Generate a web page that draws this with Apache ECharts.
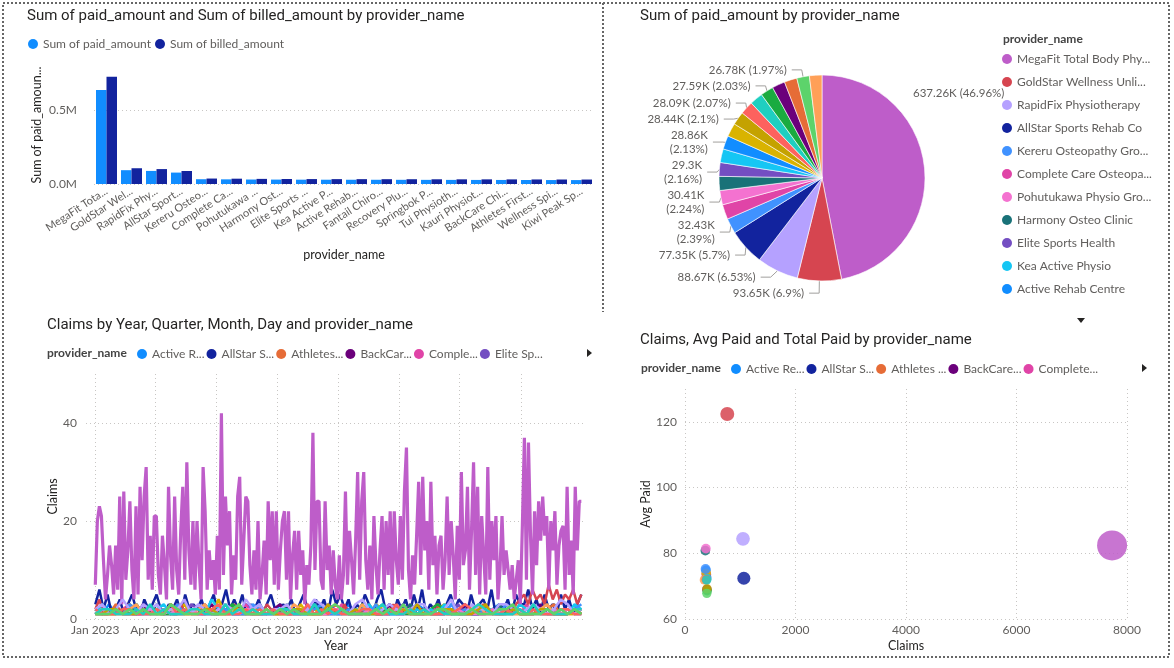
<!DOCTYPE html>
<html>
<head>
<meta charset="utf-8">
<script src="https://cdn.jsdelivr.net/npm/echarts@6/dist/echarts.min.js"></script>
<style>
  html, body { margin: 0; padding: 0; background: #fff; }
  #chart { width: 1174px; height: 668px; }
</style>
</head>
<body>
<div id="chart"></div>
<script>
// providers, ordered by sum of paid_amount (desc)
const providers = [
  'MegaFit Total Body Phy...', 'GoldStar Wellness Unli...', 'RapidFix Physiotherapy', 'AllStar Sports Rehab Co',
  'Kereru Osteopathy Gro...', 'Complete Care Osteopa...', 'Pohutukawa Physio Gro...', 'Harmony Osteo Clinic',
  'Elite Sports Health', 'Kea Active Physio', 'Active Rehab Centre', 'Fantail Chiro...',
  'Recovery Plu...', 'Springbok P...', 'Tui Physioth...', 'Kauri Physiot...',
  'BackCare Chi...', 'Athletes First...', 'Wellness Spi...', 'Kiwi Peak Sp...'
];
const barTickLabels = [
  'MegaFit Tota...', 'GoldStar Wel...', 'RapidFix Phy...', 'AllStar Sport...', 'Kereru Osteo...',
  'Complete Ca...', 'Pohutukawa ...', 'Harmony Ost...', 'Elite Sports ...', 'Kea Active P...',
  'Active Rehab...', 'Fantail Chiro...', 'Recovery Plu...', 'Springbok P...', 'Tui Physioth...',
  'Kauri Physiot...', 'BackCare Chi...', 'Athletes First...', 'Wellness Spi...', 'Kiwi Peak Sp...'
];
// thousands
const paidK = [637.26, 93.65, 88.67, 77.35, 32.43, 31.6, 30.41, 29.9, 29.3, 29.05,
               28.86, 28.65, 28.44, 28.09, 27.85, 27.59, 27.45, 27.1, 26.78, 26.6];
const billedK = [726.5, 106.8, 101.1, 88.2, 37.0, 36.0, 34.7, 34.1, 33.4, 33.1,
                 32.9, 32.7, 32.4, 32.0, 31.7, 31.5, 31.3, 30.9, 30.5, 30.3];
const claims = [7730, 765, 1050, 1065, 372, 385, 378, 368, 390, 395,
                380, 384, 398, 388, 392, 401, 396, 376, 395, 350];
const avgPaid = [82.4, 122.4, 84.4, 72.4, 75.2, 73.6, 81.4, 80.8, 72.8, 72.3,
                 74.8, 73.9, 69.2, 72.0, 71.9, 68.6, 69.0, 72.1, 67.8, 71.9];

const quarterTicks = ['2023-01-01', '2023-04-01', '2023-07-01', '2023-10-01',
                      '2024-01-01', '2024-04-01', '2024-07-01', '2024-10-01'];

// daily claims, Jan 2023 .. Dec 2024 (sampled)
const megaFitDaily = [
  7, 20, 23, 21, 12, 4, 9, 15, 11, 5,
  15, 6, 25, 3, 26, 8, 14, 24, 10, 4,
  23, 5, 27, 12, 25, 31, 8, 17, 6, 21,
  21, 9, 5, 17, 11, 4, 27, 13, 6, 25,
  10, 5, 18, 27, 8, 32, 14, 7, 20, 6,
  20, 11, 4, 31, 22, 6, 14, 8, 12, 5,
  17, 6, 42, 9, 25, 15, 22, 5, 13, 8,
  25, 29, 7, 16, 25, 24, 11, 5, 14, 6,
  20, 4, 9, 16, 5, 24, 12, 22, 7, 22,
  6, 14, 20, 22, 8, 22, 4, 13, 18, 6,
  18, 9, 14, 3, 11, 7, 15, 38, 10, 24,
  24, 8, 6, 24, 10, 15, 5, 14, 7, 4,
  13, 4, 9, 26, 7, 18, 12, 5, 16, 30,
  8, 24, 30, 12, 6, 15, 4, 21, 11, 5,
  14, 21, 6, 20, 9, 22, 5, 22, 12, 7,
  21, 8, 26, 35, 10, 4, 13, 7, 17, 28,
  9, 29, 14, 20, 6, 28, 11, 17, 5, 15,
  17, 6, 12, 25, 9, 20, 13, 4, 19, 8,
  30, 11, 14, 27, 6, 18, 32, 9, 27, 5,
  21, 13, 5, 31, 8, 20, 12, 21, 4, 10,
  21, 9, 14, 10, 6, 11, 4, 8, 12, 3,
  19, 37, 8, 36, 17, 5, 22, 11, 24, 16,
  25, 17, 21, 6, 20, 14, 22, 7, 15, 18,
  19, 6, 27, 9, 16, 5, 27, 14, 24, 24
];
const allStarDaily = [
  3,6,2,5,1, 2,4,1,3,5, 2,1,4,2,3, 5,2,1,3,2, 4,1,5,2,3, 2,4,1,3,5,
  1,3,6,2,4, 2,5,1,3,2, 4,1,3,5,2, 1,3,2,4,1, 3,5,2,1,4, 2,4,1,6,3,
  5,2,4,1,3, 2,5,3,1,4, 6,2,3,1,4, 2,4,1,5,2, 6,1,3,2,4, 1,3,5,2,4,
  3,1,5,2,3, 4,2,6,1,3, 2,4,1,5,3, 3,6,2,4,1, 5,2,3,1,5, 2,4,1,3,5
];
const goldStarDaily = [
  2,4,1,1,2, 1,2,1,3,1, 1,1,2,1,2, 2,1,1,2,1, 1,3,1,1,2, 2,1,1,2,1,
  1,2,1,1,3, 2,1,2,1,1, 1,1,3,2,1, 1,2,1,1,2, 2,1,3,1,1, 1,2,1,2,1,
  1,3,1,2,1, 2,1,1,2,1, 1,2,1,3,1, 2,1,2,1,1, 1,1,2,1,3, 2,1,1,2,1,
  1,2,1,1,2, 3,1,2,1,1, 1,2,1,3,4, 5,3,6,4,5, 3,7,4,6,3, 5,4,6,3,5
];
const activeRehabDaily = [2,1,3,1,2,1,3,1,2,1,1,3,2,1,2,1,3,1,2,2,1,1,3,2,1,2,1,3,1,1,2,1,3,1,2,1,2,3,1,1,2,2,3,1,1,1,2,3,2,1,1,1,3,2,2,1,1,1,2,3,3,1,2,1,1,2,2,3,1,1,2,1];
const rapidFixDaily = [2,3,1,2,4,2,1,3,2,3,1,2,2,4,1,3,2,1,2,3,2,1,4,2,3,1,2,2,3,1,1,2,4,3,2,1,2,1,3,4,2,1,2,3,2,1,2,3,3,1,2,2,4,1,1,3,2,2,1,3,3,2,1,2,3,2,1,2,4,3,1,2];
const athletesDaily = [1,2,1,3,1,2,1,1,2,2,1,3,1,2,1,1,3,1,2,1,2,1,2,1,3,1,1,1,2,2,2,1,1,1,1,3,2,2,1,1,3,1,1,1,2,2,1,1,1,2,3,1,1,2,2,1,1,3,1,2,1,2,1,1,1,2,2,3,1,1,1,2];
const backCareDaily = [1,1,2,2,1,1,1,3,1,1,2,1,2,1,2,1,1,3,1,2,1,2,1,1,1,1,2,3,1,1,1,2,1,2,1,2,1,1,1,2,2,1,1,3,1,1,1,2,2,1,1,1,2,1,3,1,1,1,1,2,1,2,1,2,1,3,1,1,1,2,1,2];
const completeDaily = [2,1,1,1,2,3,1,1,2,2,1,1,3,1,2,1,2,1,1,1,2,2,3,1,1,1,2,1,2,1,2,1,3,1,1,1,3,2,1,1,1,2,2,1,1,1,3,1,1,2,2,2,1,1,1,1,3,2,1,1,1,2,1,3,1,2,1,1,2,2,1,1];
const eliteDaily = [1,2,1,2,1,3,1,1,1,2,2,1,1,1,3,2,1,1,1,2,1,1,1,2,3,1,1,2,1,2,1,1,1,1,3,2,2,1,1,1,2,1,1,1,2,3,1,1,1,2,1,2,1,3,1,1,1,2,2,1,1,1,2,1,3,1,2,1,1,1,2,2];
const fantailDaily = [2,1,1,1,1,3,2,1,2,1,2,1,1,3,1,2,1,1,4,1,2,1,1,2,2,2,1,1,1,1,3,1,2,1,2,1,2,1,1,1,1,3,2,1,2,1,2,1,1,1,2,3,1,1,1,2,1,2,1,2,1,1,3,2,1,1,1,2,1,1,1,2];
const harmonyDaily = [1,1,2,2,1,1,1,2,1,3,1,1,1,1,2,2,1,2,1,3,1,1,1,1,2,1,2,1,2,1,1,1,3,2,1,1,1,2,1,2,1,1,1,1,2,1,3,1,2,1,1,1,2,2,1,1,1,2,1,3,1,2,1,1,1,2,3,1,1,1,2,1];
const kauriDaily = [2,1,1,1,2,1,3,1,2,1,1,1,2,1,2,1,2,1,1,1,3,2,2,1,1,1,2,1,3,1,2,1,1,1,1,2,1,2,1,3,1,1,2,1,2,1,1,1,1,2,3,2,1,1,1,1,2,1,2,1,2,1,1,1,3,1,1,1,2,2,1,1];
const keaDaily = [1,3,1,2,1,2,1,1,1,2,3,1,1,2,1,1,1,4,2,1,1,1,2,2,3,1,1,1,1,2,2,1,3,1,2,1,1,1,2,2,3,1,1,1,1,2,1,2,1,2,1,3,1,1,1,1,2,2,2,1,1,1,3,2,1,1,1,2,1,1,3,2];
const kereruDaily = [2,1,2,1,1,3,2,1,1,1,2,1,3,1,2,1,1,1,2,2,1,1,1,3,2,1,2,1,2,1,1,1,2,3,1,1,1,2,1,2,1,3,1,1,1,2,2,1,1,1,2,1,3,1,2,1,1,2,1,1,3,2,1,1,1,2,2,1,1,1,2,3];
const kiwiPeakDaily = [1,2,1,1,1,2,3,1,1,2,1,2,1,1,1,2,3,1,1,1,2,2,1,1,1,2,1,1,1,3,2,1,1,1,2,2,1,1,1,3,1,2,1,2,1,2,1,1,1,1,2,2,2,1,1,1,3,1,2,1,2,1,1,1,1,2,3,1,1,1,2,1];
const pohutukawaDaily = [1,2,1,2,1,1,1,1,2,1,2,1,2,1,2,1,1,1,2,1,1,1,2,2,1,1,1,2,1,2,1,2,1,1,1,2,2,1,1,1,2,1,1,1,2,2,2,1,1,1,1,2,1,2,1,1,1,1,2,1,2,1,2,1,1,1,1,2,1,2,1,1];
const recoveryDaily = [1,1,2,2,1,1,1,2,1,1,1,3,2,1,1,1,2,2,1,1,1,3,1,2,1,2,1,1,1,2,2,1,1,1,3,1,2,1,2,1,1,1,1,2,1,2,1,3,1,1,1,2,2,1,1,1,2,3,1,1,1,2,1,1,1,2,2,1,1,1,2,1];
const springbokDaily = [2,1,1,1,2,2,1,1,1,2,1,3,1,2,1,1,1,2,3,1,1,1,2,1,2,1,2,1,1,1,1,3,1,2,1,2,1,1,1,2,2,1,1,1,3,1,2,1,2,1,1,1,1,2,3,2,1,1,1,1,2,1,2,1,2,1,1,1,2,2,1,1];
const tuiDaily = [1,2,2,1,1,1,2,1,3,1,2,1,1,1,2,2,1,1,1,3,1,2,1,2,1,1,1,2,2,1,1,1,3,1,2,1,2,1,1,1,1,2,3,1,1,1,2,1,2,1,2,1,1,1,1,2,3,2,1,1,1,1,2,1,3,1,2,1,1,1,2,2];
const wellnessDaily = [1,1,1,2,1,2,1,2,1,1,1,3,2,1,1,1,2,1,1,1,2,3,1,1,1,2,1,2,1,2,1,1,1,1,2,3,2,1,1,1,1,2,1,2,1,3,1,1,1,1,2,2,1,1,1,2,1,1,1,2,2,3,1,1,1,1,2,1,2,1,2,1];

// same order as providers
const dailyByProvider = [
  megaFitDaily, goldStarDaily, rapidFixDaily, allStarDaily, kereruDaily, completeDaily, pohutukawaDaily,
  harmonyDaily, eliteDaily, keaDaily, activeRehabDaily, fantailDaily, recoveryDaily, springbokDaily,
  tuiDaily, kauriDaily, backCareDaily, athletesDaily, wellnessDaily, kiwiPeakDaily
];

const pieLabelled = [0, 1, 2, 3, 4, 6, 8, 10, 12, 13, 15, 18];
const pieWrapped = [4, 6, 8, 10];
const paidTotal = paidK.reduce((a, b) => a + b, 0);

// power bi default palette, assigned alphabetically
const palette = ['#118DFF', '#12239E', '#E66C37', '#6B007B', '#E044A7', '#744EC2', '#D9B300', '#D64550',
                 '#197278', '#1AAB40', '#15C6F4', '#4092FF', '#FFA058', '#BE5DC9', '#F472D0', '#B5A1FF',
                 '#C4A200', '#FD625E', '#1FCFC0', '#5DD36B'];
const alphaOrder = providers.slice().sort((a, b) => a.localeCompare(b));
const colorOf = {};
alphaOrder.forEach((n, i) => { colorOf[n] = palette[i]; });

const FONT = '"Segoe UI", Lato, "Open Sans", sans-serif';
const TFONT = 'DIN, Roboto, sans-serif';
const LABEL = '#605E5C';
const DARK = '#252423';
const MONTHS = ['Jan', 'Feb', 'Mar', 'Apr', 'May', 'Jun', 'Jul', 'Aug', 'Sep', 'Oct', 'Nov', 'Dec'];
const dotted = { color: '#C8C6C4', type: [1, 3], width: 1 };

// x of the line chart = days since 1 Jan 2023
const DAY = 86400000;
const T0 = Date.UTC(2023, 0, 1);
const SPAN = (Date.UTC(2024, 11, 31) - T0) / DAY;
function toDaily(arr) {
  return arr.map((v, i) => [SPAN * i / (arr.length - 1), v]);
}
function toDayNo(s) {
  const p = s.split('-');
  return (Date.UTC(+p[0], +p[1] - 1, +p[2]) - T0) / DAY;
}
const quarterDays = quarterTicks.map(toDayNo);

const lineSeries = alphaOrder.map(name => {
  const i = providers.indexOf(name);
  return {
    name: name, type: 'line', xAxisIndex: 1, yAxisIndex: 1,
    data: toDaily(dailyByProvider[i]),
    showSymbol: false, symbol: 'none',
    lineStyle: { width: i === 0 ? 3.2 : 2.5 },
    color: colorOf[name]
  };
});

const scatterSeries = alphaOrder.map(name => {
  const i = providers.indexOf(name);
  return {
    name: name, type: 'scatter', xAxisIndex: 2, yAxisIndex: 2,
    data: [[claims[i], avgPaid[i], paidK[i]]],
    symbolSize: d => 4 + 26 * Math.sqrt(d[2] / paidK[0]),
    itemStyle: { color: colorOf[name], opacity: 0.85 }
  };
});

const titleStyle = { fontFamily: TFONT, fontSize: 15, fontWeight: 'normal', color: DARK };
const fieldStyle = { fontFamily: FONT, fontSize: 12, fontWeight: 'bold', color: '#444' };

const myChart = echarts.init(document.getElementById('chart'));
const option = {
  animation: false,
  textStyle: { fontFamily: FONT },
  title: [
    { text: 'Sum of paid_amount and Sum of billed_amount by provider_name', left: 27, top: 9, padding: 0, textStyle: titleStyle },
    { text: 'Sum of paid_amount by provider_name', left: 640, top: 9, padding: 0, textStyle: titleStyle },
    { text: 'Claims by Year, Quarter, Month, Day and provider_name', left: 47, top: 318, padding: 0, textStyle: titleStyle },
    { text: 'Claims, Avg Paid and Total Paid by provider_name', left: 640, top: 333, padding: 0, textStyle: titleStyle },
    { text: 'provider_name', left: 1003, top: 33, padding: 0, textStyle: fieldStyle },
    { text: 'provider_name', left: 47, top: 347, padding: 0, textStyle: fieldStyle },
    { text: 'provider_name', left: 641, top: 362, padding: 0, textStyle: fieldStyle }
  ],
  legend: [
    { data: ['Sum of paid_amount', 'Sum of billed_amount'], left: 28, top: 38, padding: 0,
      icon: 'circle', itemWidth: 10, itemHeight: 10, itemGap: 4,
      textStyle: { fontSize: 12, color: LABEL } },
    { data: providers.slice(0, 11), orient: 'vertical', left: 1002, top: 53, padding: 0,
      icon: 'circle', itemWidth: 10, itemHeight: 10, itemGap: 11,
      textStyle: { fontSize: 12, color: LABEL, width: 140, overflow: 'truncate', ellipsis: '...' } },
    { data: alphaOrder.slice(0, 6), left: 137, top: 348, padding: 0,
      icon: 'circle', itemWidth: 10, itemHeight: 10, itemGap: 2,
      textStyle: { fontSize: 12, color: LABEL, width: 54, overflow: 'truncate', ellipsis: '...' } },
    { data: alphaOrder.slice(0, 5), left: 731, top: 363, padding: 0,
      icon: 'circle', itemWidth: 10, itemHeight: 10, itemGap: 2,
      textStyle: { fontSize: 12, color: LABEL, width: 61, overflow: 'truncate', ellipsis: '...' } }
  ],
  grid: [
    { left: 94, right: 580, top: 66, bottom: 484 },
    { left: 86, right: 588, top: 374, bottom: 49 },
    { left: 685, right: 47, top: 389, bottom: 49 }
  ],
  xAxis: [
    { type: 'category', gridIndex: 0, data: barTickLabels,
      axisLine: { show: false }, axisTick: { show: false },
      axisLabel: { rotate: 33, fontSize: 11, color: LABEL, margin: 6, interval: 0 },
      name: 'provider_name', nameLocation: 'middle', nameGap: 64,
      nameTextStyle: { fontSize: 12.5, color: DARK } },
    { type: 'value', gridIndex: 1, min: -14, max: 737,
      axisLine: { show: false },
      axisTick: { show: false, customValues: quarterDays },
      axisLabel: { customValues: quarterDays, fontSize: 12, color: LABEL, margin: 5,
        formatter: v => { const d = new Date(T0 + v * DAY); return MONTHS[d.getUTCMonth()] + ' ' + d.getUTCFullYear(); } },
      splitLine: { show: true, lineStyle: dotted },
      name: 'Year', nameLocation: 'middle', nameGap: 20,
      nameTextStyle: { fontSize: 12.5, color: DARK } },
    { type: 'value', gridIndex: 2, min: 0, max: 8000, interval: 2000,
      axisLine: { show: false }, axisTick: { show: false },
      axisLabel: { fontSize: 12, color: LABEL, margin: 5, formatter: v => String(v) },
      splitLine: { show: true, lineStyle: dotted },
      name: 'Claims', nameLocation: 'middle', nameGap: 20,
      nameTextStyle: { fontSize: 12.5, color: DARK } }
  ],
  yAxis: [
    { type: 'value', gridIndex: 0, min: 0, max: 800, interval: 500,
      axisLine: { show: false }, axisTick: { show: false },
      axisLabel: { fontSize: 12, color: LABEL, margin: 17, showMaxLabel: false,
        formatter: v => (v / 1000).toFixed(1) + 'M' },
      splitLine: { show: true, showMaxLine: false, lineStyle: dotted },
      name: 'Sum of paid_amount and Sum of billed_amount', nameLocation: 'middle', nameGap: 51,
      nameTruncate: { maxWidth: 118, ellipsis: '...' },
      nameTextStyle: { fontSize: 12.5, color: DARK } },
    { type: 'value', gridIndex: 1, min: 0, max: 50, interval: 20,
      axisLine: { show: false }, axisTick: { show: false },
      axisLabel: { fontSize: 12, color: LABEL, margin: 9, showMaxLabel: false },
      splitLine: { show: true, showMaxLine: false, lineStyle: dotted },
      name: 'Claims', nameLocation: 'middle', nameGap: 23,
      nameTextStyle: { fontSize: 12.5, color: DARK } },
    { type: 'value', gridIndex: 2, min: 60, max: 130, interval: 20,
      axisLine: { show: false }, axisTick: { show: false },
      axisLabel: { fontSize: 12, color: LABEL, margin: 8, showMaxLabel: false },
      splitLine: { show: true, showMaxLine: false, lineStyle: dotted },
      name: 'Avg Paid', nameLocation: 'middle', nameGap: 25,
      nameTextStyle: { fontSize: 12.5, color: DARK } }
  ],
  series: [
    { name: 'Sum of paid_amount', type: 'bar', xAxisIndex: 0, yAxisIndex: 0, data: paidK,
      color: '#118DFF', barGap: '0%', barCategoryGap: '16%' },
    { name: 'Sum of billed_amount', type: 'bar', xAxisIndex: 0, yAxisIndex: 0, data: billedK,
      color: '#12239E', barGap: '0%', barCategoryGap: '16%' },
    { name: 'paid by provider', type: 'pie', center: [822, 178], radius: 103,
      startAngle: 90, clockwise: true,
      itemStyle: { borderColor: '#fff', borderWidth: 0.6 },
      label: { fontSize: 11.5, color: LABEL, lineHeight: 14,
        formatter: p => {
          const v = +p.value.toFixed(2) + 'K';
          const pct = '(' + +(p.value / paidTotal * 100).toFixed(2) + '%)';
          return pieWrapped.includes(p.dataIndex) ? v + '\n' + pct : v + ' ' + pct;
        } },
      labelLine: { length: 7, length2: 10, lineStyle: { color: '#A19F9D', width: 1 } },
      // the big slice's label sits up by the top right of the pie, as in the report
      labelLayout: p => p.dataIndex === 0 ? { x: 913, y: 93, align: 'left', verticalAlign: 'middle' } : {},
      emphasis: { disabled: true },
      data: providers.map((n, i) => ({
        name: n, value: paidK[i],
        itemStyle: { color: colorOf[n] },
        label: { show: pieLabelled.includes(i) },
        labelLine: { show: pieLabelled.includes(i) && i !== 0 }
      })) }
  ].concat(lineSeries, scatterSeries),
  graphic: [
    { type: 'rect', silent: true, shape: { x: 3, y: 3, width: 1166, height: 654 },
      style: { fill: 'none', stroke: '#666', lineWidth: 2, lineDash: [2, 2] } },
    { type: 'line', silent: true, shape: { x1: 603, y1: 3, x2: 603, y2: 312 },
      style: { stroke: '#666', lineWidth: 2, lineDash: [2, 2] } },
    { type: 'polygon', silent: true, shape: { points: [[1077, 318], [1085, 318], [1081, 323]] },
      style: { fill: DARK } },
    { type: 'polygon', silent: true, shape: { points: [[587, 349], [587, 357], [592, 353]] },
      style: { fill: DARK } },
    { type: 'polygon', silent: true, shape: { points: [[1142, 364], [1142, 372], [1147, 368]] },
      style: { fill: DARK } }
  ]
};
myChart.setOption(option);
</script>
</body>
</html>
